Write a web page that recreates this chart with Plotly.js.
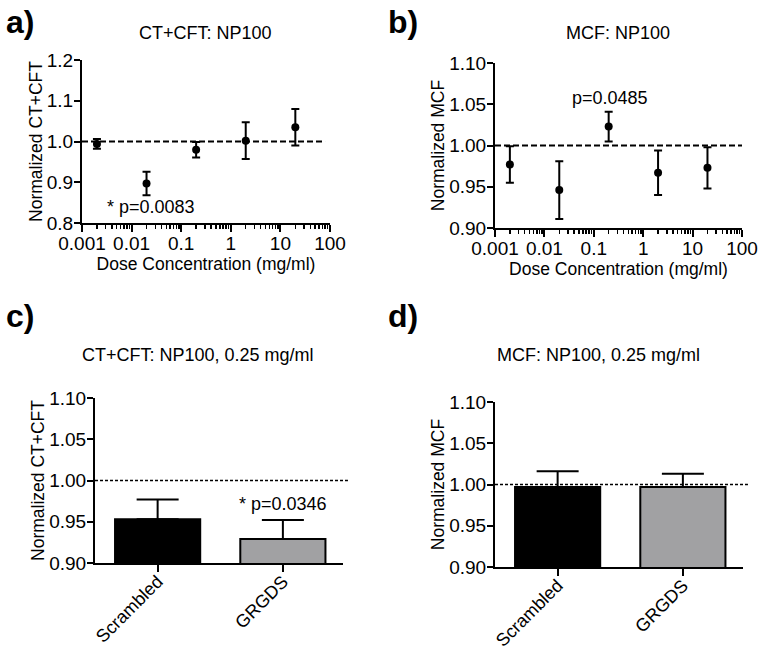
<!DOCTYPE html>
<html>
<head>
<meta charset="utf-8">
<script src="https://cdn.plot.ly/plotly-3.0.1.min.js"></script>
<style>
  html, body { margin: 0; padding: 0; background: #fff; }
  #grafico { width: 764px; height: 652px; }
</style>
</head>
<body>
<div id="grafico"></div>
<script>
// Datos
const dosis = [0.002, 0.02, 0.2, 2, 20];
const ctcftMedia = [0.994, 0.897, 0.980, 1.002, 1.035];
const ctcftError = [0.012, 0.029, 0.019, 0.045, 0.045];
const mcfMedia = [0.977, 0.946, 1.023, 0.967, 0.973];
const mcfError = [0.022, 0.035, 0.018, 0.027, 0.025];

const grupos = ["Scrambled", "GRGDS"];
const barCtcft = [0.953, 0.929];
const barCtcftError = [0.024, 0.023];
const barMcf = [0.997, 0.997];
const barMcfError = [0.019, 0.016];

const dosisTicks = [0.001, 0.01, 0.1, 1, 10, 100];
const dosisTexto = ["0.001", "0.01", "0.1", "1", "10", "100"];

// marcas menores del eje logarítmico (2..9 por década)
const menores = [];
for (let e = -3; e < 2; e++) {
    for (let m = 2; m <= 9; m++) menores.push(m * Math.pow(10, e));
}

const fuente = "Liberation Sans, Arial, Helvetica, sans-serif";
const W = 764, H = 652;
const px = v => v / W;
const py = v => 1 - v / H;

function ejeBase(extra) {
    return Object.assign({
        showline: true,
        linecolor: "black",
        linewidth: 2,
        ticks: "outside",
        tickcolor: "black",
        tickwidth: 2,
        ticklen: 6,
        showgrid: false,
        zeroline: false,
        tickfont: { family: fuente, size: 19, color: "black" },
        fixedrange: true
    }, extra);
}

function ejeDosis(dominio, ancla) {
    return ejeBase({
        domain: dominio,
        anchor: ancla,
        type: "log",
        range: [-3, 2],
        tickmode: "array",
        tickvals: dosisTicks,
        ticktext: dosisTexto,
        ticklen: 7,
        ticklabelstandoff: -5,
        minor: { tickmode: "array", tickvals: menores, ticks: "outside", ticklen: 4, tickwidth: 1.5, tickcolor: "black", showgrid: false },
        title: { text: "Dose Concentration (mg/ml)", font: { family: fuente, size: 17.5, color: "black" }, standoff: 4 }
    });
}

function ejeGrupo(dominio, ancla) {
    return ejeBase({
        domain: dominio,
        anchor: ancla,
        type: "category",
        range: [-0.5, 1.48],
        tickangle: -45,
        ticklen: 7,
        ticklabelstandoff: -8,
        tickfont: { family: fuente, size: 18, color: "black" }
    });
}

function ejeY(dominio, ancla, rango, paso, formato, titulo) {
    return ejeBase({
        domain: dominio,
        anchor: ancla,
        range: rango,
        dtick: paso,
        tick0: 0,
        tickformat: formato,
        ticklabelstandoff: -3,
        title: { text: titulo, font: { family: fuente, size: 17.5, color: "black" }, standoff: 0 }
    });
}

const puntos = (x, y, err, xa, ya) => ({
    x: x, y: y, xaxis: xa, yaxis: ya,
    type: "scatter", mode: "markers",
    marker: { color: "black", size: 8 },
    error_y: { type: "data", array: err, color: "black", thickness: 2, width: 4 },
    showlegend: false, hoverinfo: "skip"
});

const barras = (y, err, xa, ya) => ({
    x: grupos, y: y, xaxis: xa, yaxis: ya,
    type: "bar", width: 0.68,
    marker: { color: ["black", "#a1a1a3"], line: { color: "black", width: 2 } },
    error_y: { type: "data", symmetric: false, array: err, arrayminus: [0, 0], color: "black", thickness: 2, width: 21 },
    showlegend: false, hoverinfo: "skip"
});

const datos = [
    puntos(dosis, ctcftMedia, ctcftError, "x", "y"),
    puntos(dosis, mcfMedia, mcfError, "x2", "y2"),
    barras(barCtcft, barCtcftError, "x3", "y3"),
    barras(barMcf, barMcfError, "x4", "y4")
];

const linea = (xr, yr, fin, guion, ancho) => ({
    type: "line", xref: xr + " domain", yref: yr,
    x0: 0, x1: fin, y0: 1, y1: 1,
    line: { color: "black", width: ancho, dash: guion },
    layer: "below"
});

const texto = (t, x, y, tam, extra) => Object.assign({
    text: t, x: x, y: y, xref: "paper", yref: "paper",
    showarrow: false, font: { family: fuente, size: tam, color: "black" }
}, extra);

const layout = {
    width: W,
    height: H,
    margin: { l: 0, r: 0, t: 0, b: 0 },
    paper_bgcolor: "white",
    plot_bgcolor: "white",
    showlegend: false,
    xaxis: ejeDosis([px(82), px(330)], "y"),
    yaxis: ejeY([py(223), py(60)], "x", [0.8, 1.2], 0.1, ".1f", "Normalized CT+CFT"),
    xaxis2: ejeDosis([px(495), px(742)], "y2"),
    yaxis2: ejeY([py(228), py(63)], "x2", [0.9, 1.1], 0.05, ".2f", "Normalized MCF"),
    xaxis3: ejeGrupo([px(95), px(343)], "y3"),
    yaxis3: ejeY([py(563), py(398)], "x3", [0.9, 1.1], 0.05, ".2f", "Normalized CT+CFT"),
    xaxis4: ejeGrupo([px(495), px(743)], "y4"),
    yaxis4: ejeY([py(567), py(402)], "x4", [0.9, 1.1], 0.05, ".2f", "Normalized MCF"),
    shapes: [
        linea("x", "y", 0.98, "6px,3px", 1.8),
        linea("x2", "y2", 1, "6px,3px", 1.8),
        linea("x3", "y3", 1.02, "3px,2px", 1.5),
        linea("x4", "y4", 1.02, "3px,2px", 1.5)
    ],
    annotations: [
        texto("<b>a)</b>", px(4), py(22), 32, { xanchor: "left", yanchor: "middle" }),
        texto("<b>b)</b>", px(386), py(22), 32, { xanchor: "left", yanchor: "middle" }),
        texto("<b>c)</b>", px(4), py(316), 32, { xanchor: "left", yanchor: "middle" }),
        texto("<b>d)</b>", px(386), py(316), 32, { xanchor: "left", yanchor: "middle" }),
        texto("CT+CFT: NP100", px(205), py(33), 18, { xanchor: "center", yanchor: "middle" }),
        texto("MCF: NP100", px(618), py(33), 18, { xanchor: "center", yanchor: "middle" }),
        texto("CT+CFT: NP100, 0.25 mg/ml", px(198), py(355), 18, { xanchor: "center", yanchor: "middle" }),
        texto("MCF: NP100, 0.25 mg/ml", px(598), py(355), 18, { xanchor: "center", yanchor: "middle" }),
        texto("* p=0.0083", -2.54, 0.839, 18, { xref: "x", yref: "y", xanchor: "left", yanchor: "middle" }),
        texto("p=0.0485", -0.667, 1.057, 18, { xref: "x2", yref: "y2", xanchor: "center", yanchor: "middle" }),
        texto("* p=0.0346", 1, 0.972, 18, { xref: "x3", yref: "y3", xanchor: "center", yanchor: "middle" })
    ]
};

Plotly.newPlot("grafico", datos, layout, { staticPlot: true });
</script>
</body>
</html>
